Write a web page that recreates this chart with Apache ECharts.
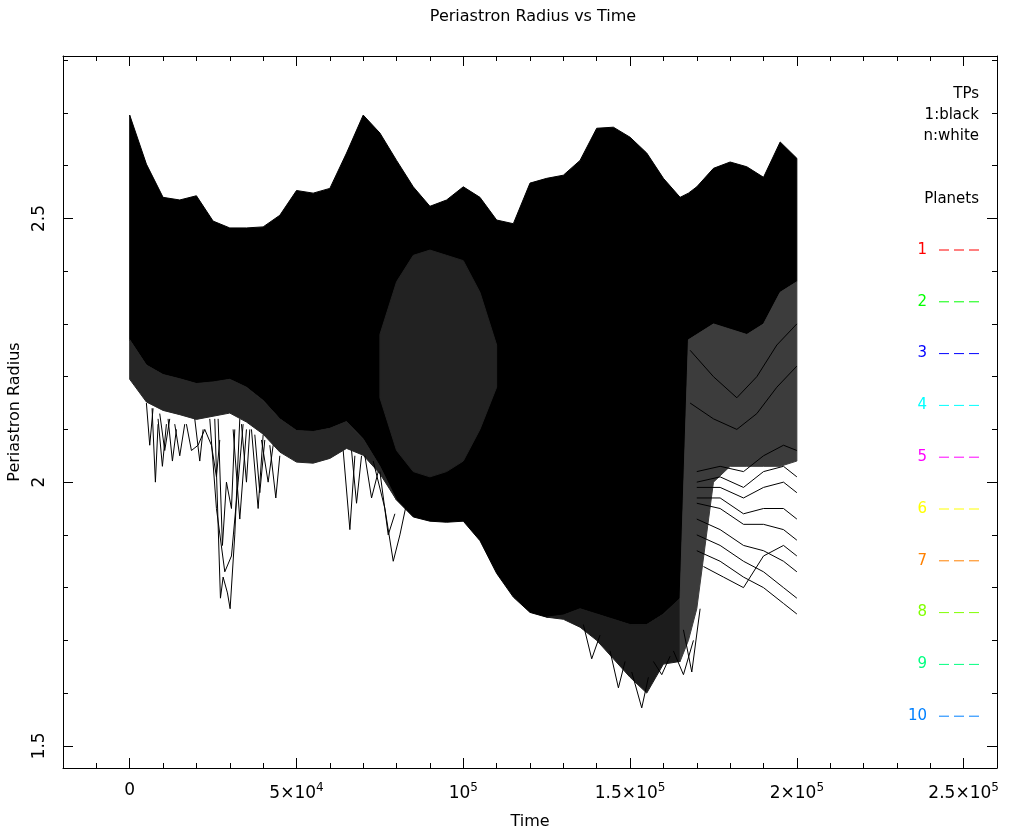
<!DOCTYPE html>
<html>
<head>
<meta charset="utf-8">
<title>Periastron Radius vs Time</title>
<script src="https://cdn.jsdelivr.net/npm/echarts@6.0.0/dist/echarts.min.js"></script>
<style>
    html, body { margin: 0; padding: 0; background: #fff; }
    #chart { width: 1011px; height: 830px; }
</style>
</head>
<body>
<div id="chart"></div>
<script>
// sample times of the envelopes (5000 apart, one extra at 167500 for the sharp step)
const times = [0, 5000, 10000, 15000, 20000, 25000, 30000, 35000, 40000, 45000,
    50000, 55000, 60000, 65000, 70000, 75000, 80000, 85000, 90000, 95000,
    100000, 105000, 110000, 115000, 120000, 125000, 130000, 135000, 140000, 145000,
    150000, 155000, 160000, 165000, 167500, 170000, 175000, 180000, 185000, 190000, 195000, 200000];

// top of the test-particle mass
const upperEdge = [2.696, 2.603, 2.540, 2.535, 2.543, 2.495, 2.482, 2.482, 2.484, 2.506,
    2.553, 2.548, 2.557, 2.624, 2.696, 2.662, 2.610, 2.560, 2.523, 2.535,
    2.560, 2.540, 2.497, 2.490, 2.567, 2.576, 2.582, 2.610, 2.671, 2.673,
    2.654, 2.624, 2.576, 2.540, 2.548, 2.560, 2.595, 2.607, 2.598, 2.578, 2.645, 2.614];

// where the solid black ends and the dark grey fringe starts
const shadeTop = [2.270, 2.222, 2.204, 2.196, 2.187, 2.190, 2.195, 2.180, 2.155, 2.120,
    2.098, 2.096, 2.102, 2.115, 2.082, 2.030, 1.966, 1.934, 1.926, 1.924,
    1.926, 1.889, 1.827, 1.782, 1.753, 1.744, 1.748, 1.760, 1.750, 1.740,
    1.730, 1.730, 1.750, 1.780, 2.270, 2.280, 2.300, 2.290, 2.280, 2.300, 2.360, 2.380];

// bottom of the dense mass
const blackBottom = [2.195, 2.152, 2.136, 2.128, 2.119, 2.125, 2.131, 2.114, 2.091, 2.057,
    2.038, 2.036, 2.045, 2.064, 2.051, 2.016, 1.966, 1.934, 1.926, 1.924,
    1.926, 1.889, 1.827, 1.782, 1.753, 1.744, 1.748, 1.760, 1.750, 1.740,
    1.730, 1.730, 1.750, 1.780, 2.270, 2.280, 2.300, 2.290, 2.280, 2.300, 2.360, 2.380];

// bottom of the strands / mesh below the mass
const meshBottom = [2.195, 2.152, 2.136, 2.128, 2.119, 2.125, 2.131, 2.114, 2.091, 2.057,
    2.038, 2.036, 2.045, 2.064, 2.051, 2.016, 1.966, 1.934, 1.926, 1.924,
    1.926, 1.889, 1.827, 1.782, 1.753, 1.744, 1.740, 1.725, 1.700, 1.665,
    1.630, 1.600, 1.655, 1.660, 1.700, 1.760, 2.000, 2.030, 2.030, 2.030, 2.030, 2.040];

// lattice of crossing tracks inside the mass (lighter patch)
const midMeshTimes = [75000, 80000, 85000, 90000, 95000, 100000, 105000, 110000];
const midMeshTop = [2.28, 2.38, 2.43, 2.44, 2.43, 2.42, 2.36, 2.26];
const midMeshBottom = [2.16, 2.06, 2.02, 2.01, 2.02, 2.04, 2.10, 2.18];

// single tracks that dip out of the mass, [time, radius]
const earlyDips = [
    [[5000, 2.15], [6000, 2.07], [7000, 2.14]],
    [[6700, 2.14], [7700, 2.00], [8500, 2.11]],
    [[8500, 2.12], [9800, 2.03], [11000, 2.11]],
    [[9000, 2.13], [10500, 2.06], [12000, 2.12]],
    [[11500, 2.12], [12800, 2.04], [14000, 2.10]],
    [[13500, 2.11], [15000, 2.05], [16500, 2.11]],
    [[17000, 2.11], [18500, 2.06], [20500, 2.07], [22500, 2.10], [24500, 2.07], [26000, 2.01], [27000, 2.08]],
    [[19500, 2.12], [21000, 2.04], [22000, 2.10]],
    [[25500, 2.12], [27200, 1.78], [28000, 1.82], [29300, 1.79], [30100, 1.76], [31500, 1.90], [33000, 2.12]],
    [[24000, 2.12], [26000, 1.95], [28500, 1.83], [30500, 1.86], [32500, 2.00], [34000, 2.11]],
    [[26500, 2.12], [27800, 1.88], [29000, 2.00], [30500, 1.95], [31500, 2.10]],
    [[31000, 2.10], [33000, 1.93], [35000, 2.10]],
    [[33500, 2.11], [35000, 2.00], [36000, 2.10]],
    [[36500, 2.10], [38500, 1.95], [40000, 2.09]],
    [[37500, 2.09], [39000, 1.98], [40500, 2.08]],
    [[39500, 2.08], [41500, 2.00], [43000, 2.07]],
    [[42000, 2.07], [43800, 1.97], [45000, 2.05]],
    [[64000, 2.06], [66000, 1.91], [67500, 2.05]],
    [[66500, 2.06], [68000, 1.96], [69500, 2.05]],
    [[70500, 2.05], [72500, 1.97], [74500, 2.02]],
    [[73000, 2.04], [76500, 1.95], [79000, 1.85], [81000, 1.90], [83000, 1.96]],
    [[75000, 2.02], [77500, 1.90], [79500, 1.94]]
];

const lateDips = [
    [[136000, 1.73], [138500, 1.665], [141000, 1.71]],
    [[144000, 1.68], [146500, 1.61], [148500, 1.66]],
    [[150500, 1.64], [153500, 1.572], [155500, 1.63]],
    [[157000, 1.66], [159500, 1.635], [162000, 1.67]],
    [[163000, 1.68], [166000, 1.635], [169000, 1.70]],
    [[166000, 1.72], [168500, 1.64], [171000, 1.76]]
];

const rightTracks = [
    [[170000, 2.02], [177000, 2.03], [184000, 2.02], [190000, 2.05], [196000, 2.07], [200000, 2.06]],
    [[170000, 2.00], [177000, 2.01], [184000, 1.99], [190000, 2.02], [196000, 2.03], [200000, 2.01]],
    [[170000, 1.99], [177000, 1.99], [184000, 1.97], [190000, 1.99], [196000, 2.00], [200000, 1.98]],
    [[170000, 1.97], [177000, 1.97], [184000, 1.94], [190000, 1.95], [196000, 1.95], [200000, 1.93]],
    [[170000, 1.96], [177000, 1.95], [184000, 1.92], [190000, 1.92], [196000, 1.91], [200000, 1.89]],
    [[170000, 1.93], [177000, 1.91], [184000, 1.88], [190000, 1.87], [196000, 1.85], [200000, 1.83]],
    [[170000, 1.90], [177000, 1.88], [184000, 1.85], [190000, 1.83], [196000, 1.80], [200000, 1.78]],
    [[170000, 1.87], [177000, 1.85], [184000, 1.82], [190000, 1.80], [196000, 1.77], [200000, 1.75]],
    [[172000, 1.84], [178000, 1.82], [184000, 1.80], [190000, 1.86], [196000, 1.88], [200000, 1.86]],
    [[168000, 2.25], [175000, 2.20], [182000, 2.16], [188000, 2.20], [194000, 2.26], [200000, 2.30]],
    [[168000, 2.15], [175000, 2.12], [182000, 2.10], [188000, 2.13], [194000, 2.18], [200000, 2.22]]
];

// axis ticks
const xMajor = [0, 50000, 100000, 150000, 200000, 250000];
const xMajorLabels = ['0', '5×10{sup|4}', '10{sup|5}', '1.5×10{sup|5}', '2×10{sup|5}', '2.5×10{sup|5}'];
const xMinor = [-10000, 10000, 20000, 30000, 40000, 60000, 70000, 80000, 90000, 110000, 120000, 130000,
    140000, 160000, 170000, 180000, 190000, 210000, 220000, 230000, 240000];
const yMajor = [1.5, 2, 2.5];
const yMinor = [1.6, 1.7, 1.8, 1.9, 2.1, 2.2, 2.3, 2.4, 2.6, 2.7, 2.8];

// legend
const tpNotes = ['TPs', '1:black', 'n:white'];
const planetNames = ['1', '2', '3', '4', '5', '6', '7', '8', '9', '10'];
const planetColors = ['#ff0000', '#00ff00', '#0000ff', '#00ffff', '#ff00ff', '#ffff00', '#ff8000', '#80ff00', '#00ff80', '#0080ff'];

const FONT = 'DejaVu Sans';
const X_MIN = -20000, X_MAX = 260000;
const Y_MIN = 1.458, Y_MAX = 2.808;

function frameX(position, ticks, len, main) {
    return {
        type: 'value', position: position, min: X_MIN, max: X_MAX,
        axisLine: { show: main, onZero: false, lineStyle: { color: '#000', width: 1 } },
        axisTick: { show: true, inside: true, length: len, customValues: ticks, lineStyle: { color: '#000' } },
        axisLabel: { show: false },
        splitLine: { show: false }
    };
}

function frameY(position, ticks, len, main) {
    return {
        type: 'value', position: position, min: Y_MIN, max: Y_MAX,
        axisLine: { show: main, onZero: false, lineStyle: { color: '#000', width: 1 } },
        axisTick: { show: true, inside: true, length: len, customValues: ticks, lineStyle: { color: '#000' } },
        axisLabel: { show: false },
        splitLine: { show: false }
    };
}

// filled band between two envelopes, from index a to b
function band(ts, top, bottom, a, b, color) {
    return {
        type: 'custom',
        silent: true,
        clip: true,
        data: [[ts[a], top[a]]],
        renderItem: function (params, api) {
            const pts = [];
            for (let i = a; i <= b; i++) pts.push(api.coord([ts[i], top[i]]));
            for (let i = b; i >= a; i--) pts.push(api.coord([ts[i], bottom[i]]));
            return {
                type: 'polygon',
                shape: { points: pts },
                style: { fill: color, stroke: color, lineWidth: 1 }
            };
        }
    };
}

function track(points) {
    return {
        type: 'line',
        data: points,
        showSymbol: false,
        silent: true,
        lineStyle: { color: '#000', width: 1 }
    };
}

const xAxes = [frameX('bottom', xMajor, 10, true), frameX('bottom', xMinor, 5, false),
    frameX('top', xMajor, 10, true), frameX('top', xMinor, 5, false)];
xAxes[0].axisLabel = {
    show: true, customValues: xMajor, margin: 14, color: '#000',
    fontFamily: FONT, fontSize: 17,
    formatter: function (v) { return xMajorLabels[xMajor.indexOf(v)]; },
    rich: { sup: { fontFamily: FONT, fontSize: 12, padding: [0, 0, 12, 0], color: '#000' } }
};
xAxes[0].name = 'Time';
xAxes[0].nameLocation = 'middle';
xAxes[0].nameGap = 46;
xAxes[0].nameTextStyle = { fontFamily: FONT, fontSize: 16, color: '#000' };

const yAxes = [frameY('left', yMajor, 10, true), frameY('left', yMinor, 5, false),
    frameY('right', yMajor, 10, true), frameY('right', yMinor, 5, false)];
yAxes[0].axisLabel = {
    show: true, customValues: yMajor, margin: 15, rotate: 90, color: '#000',
    fontFamily: FONT, fontSize: 17,
    formatter: function (v) { return String(v); }
};
yAxes[0].name = 'Periastron Radius';
yAxes[0].nameLocation = 'middle';
yAxes[0].nameRotate = 90;
yAxes[0].nameGap = 34;
yAxes[0].nameTextStyle = { fontFamily: FONT, fontSize: 16, color: '#000' };

const series = [
    band(times, upperEdge, shadeTop, 0, times.length - 1, '#000'),
    band(times, shadeTop, blackBottom, 0, 16, '#262626'),
    band(times, blackBottom, meshBottom, 25, 33, '#1c1c1c'),
    band(times, blackBottom, meshBottom, 33, times.length - 1, '#3c3c3c'),
    band(midMeshTimes, midMeshTop, midMeshBottom, 0, midMeshTimes.length - 1, '#222')
];
earlyDips.concat(lateDips, rightTracks).forEach(function (p) { series.push(track(p)); });

// legend drawn as plain text + dashed strokes
const graphics = [];
tpNotes.forEach(function (t, i) {
    graphics.push({
        type: 'text', right: 1011 - 979, top: 87 + i * 21,
        style: { text: t, fill: '#000', font: '15px "' + FONT + '"', textAlign: 'right' }
    });
});
graphics.push({
    type: 'text', right: 1011 - 979, top: 192,
    style: { text: 'Planets', fill: '#000', font: '15px "' + FONT + '"', textAlign: 'right' }
});
planetNames.forEach(function (name, i) {
    const y = 250 + i * 51.8;
    graphics.push({
        type: 'text', x: 927, y: y,
        style: { text: name, fill: planetColors[i], font: '15px "' + FONT + '"', align: 'right', verticalAlign: 'middle' }
    });
    graphics.push({
        type: 'line', shape: { x1: 939, y1: y, x2: 979, y2: y },
        style: { stroke: planetColors[i], lineWidth: 1, lineDash: [10, 5] }
    });
});

const chart = echarts.init(document.getElementById('chart'));
chart.setOption({
    animation: false,
    backgroundColor: '#fff',
    title: {
        text: 'Periastron Radius vs Time',
        left: 528, top: 4, textAlign: 'center',
        textStyle: { fontFamily: FONT, fontSize: 16, fontWeight: 'normal', color: '#000' }
    },
    grid: { left: 63, right: 14, top: 56, bottom: 62, containLabel: false, outerBoundsMode: 'none' },
    xAxis: xAxes,
    yAxis: yAxes,
    series: series,
    graphic: graphics
});
</script>
</body>
</html>
